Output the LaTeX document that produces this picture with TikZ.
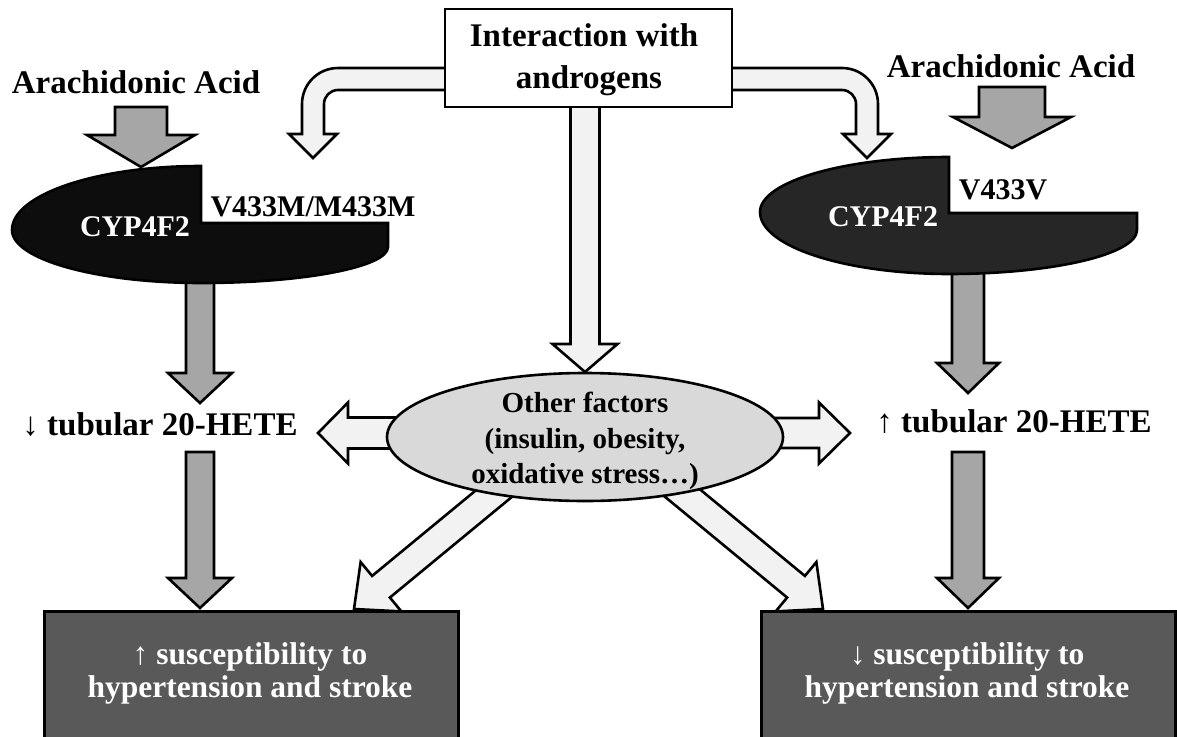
\documentclass[tikz,border=0pt]{standalone}
\usepackage{fontspec}
\setmainfont{Liberation Serif}
\usetikzlibrary{calc}
\definecolor{lightfill}{HTML}{F2F2F2}
\definecolor{grayfill}{HTML}{A6A6A6}
\definecolor{ellfill}{HTML}{D9D9D9}
\definecolor{boxfill}{HTML}{595959}
\definecolor{darkL}{HTML}{0D0D0D}
\definecolor{darkR}{HTML}{262626}
\newcommand\blockarrow[6]{%
  \coordinate (bab) at ($(#2)!#5!(#1)$);
  \draw[#6] ($(#1)!#3!90:(#2)$) -- ($(bab)!#3!90:(#2)$) -- ($(bab)!#4!90:(#2)$) -- (#2)
    -- ($(bab)!#4!-90:(#2)$) -- ($(bab)!#3!-90:(#2)$) -- ($(#1)!#3!-90:(#2)$) -- cycle;}
\begin{document}
\begin{tikzpicture}[x=1pt,y=-1pt,
  outline/.style={draw=black, line width=2.6pt, line join=miter},
  light/.style={outline, fill=lightfill},
  grayarrow/.style={outline, fill=grayfill},
  lbl/.style={inner sep=0pt, anchor=base, font=\fontsize{33}{36}\selectfont\bfseries},
  small/.style={inner sep=0pt, anchor=base, font=\fontsize{30}{33}\selectfont\bfseries},
  boxt/.style={inner sep=0pt, anchor=base, font=\fontsize{31.5}{33}\selectfont\bfseries},
  ell/.style={inner sep=0pt, anchor=base, font=\fontsize{29}{33}\selectfont\bfseries},
  topt/.style={inner sep=0pt, anchor=base, font=\fontsize{33}{36}\selectfont\bfseries},
  whitetxt/.style={text=white}]
\useasboundingbox (0,0) rectangle (1177,736);
\clip (0,0) rectangle (1177,736);

% ---- coordinates for block arrows
\coordinate (aaLs) at (141,107);  \coordinate (aaLt) at (141,167);
\coordinate (aaRs) at (1012,87);  \coordinate (aaRt) at (1012,148);
\coordinate (cLs) at (200,270);   \coordinate (cLt) at (200,403);
\coordinate (hLs) at (200,452);   \coordinate (hLt) at (200,608);
\coordinate (cRs) at (968,262);   \coordinate (cRt) at (968,393);
\coordinate (hRs) at (968,452);   \coordinate (hRt) at (968,608);
\coordinate (fLs) at (480,433);   \coordinate (fLt) at (318,433);
\coordinate (fRs) at (690,433);   \coordinate (fRt) at (850,433);
\coordinate (dLs) at (531,463);   \coordinate (dLt) at (354,609);
\coordinate (dRs) at (646,463);   \coordinate (dRt) at (823,609);
\coordinate (mDs) at (585,100);   \coordinate (mDt) at (585,372);

% ---- gray arrows leaving the enzymes (under the shapes)
\blockarrow{cLs}{cLt}{14pt}{32pt}{30pt}{grayarrow}
\blockarrow{cRs}{cRt}{16pt}{31pt}{30pt}{grayarrow}

% ---- enzyme shapes
\draw[outline, fill=darkL] (201,166) .. controls (96.6,166) and (12,194.6) .. (12,230)
  .. controls (12,259.3) and (96.6,283) .. (201,283)
  .. controls (304.3,283) and (388,266.9) .. (388,247)
  -- (388,223) -- (201,223) -- cycle;
\draw[outline, fill=darkR] (949,157) .. controls (844.6,157) and (760,181.6) .. (760,212)
  .. controls (760,246.2) and (844.6,274) .. (949,274)
  .. controls (1052.8,274) and (1137,254.3) .. (1137,230)
  -- (1137,213) -- (949,213) -- cycle;
\node[small, whitetxt] (cypL) at (135,236) {CYP4F2};
\node[small] (varL) at (313,216) {V433M/M433M};
\node[small, whitetxt] (cypR) at (883,226) {CYP4F2};
\node[small] (varR) at (1003,199) {V433V};

% ---- arachidonic acid
\node[lbl] (aaL) at (136,93) {Arachidonic Acid};
\node[lbl] (aaR) at (1011,77) {Arachidonic Acid};
\blockarrow{aaLs}{aaLt}{26pt}{54pt}{32pt}{grayarrow}
\blockarrow{aaRs}{aaRt}{33pt}{59pt}{31pt}{grayarrow}

% ---- tubular 20-HETE
\node[lbl] (heteL) at (160,435) {↓ tubular 20-HETE};
\node[lbl] (heteR) at (1014,432) {↑ tubular 20-HETE};
\blockarrow{hLs}{hLt}{14pt}{32pt}{30pt}{grayarrow}
\blockarrow{hRs}{hRt}{16pt}{31pt}{30pt}{grayarrow}

% ---- arrows from other factors
\blockarrow{fLs}{fLt}{15.5pt}{30.5pt}{30pt}{light}
\blockarrow{fRs}{fRt}{15pt}{30.5pt}{31pt}{light}
\blockarrow{dLs}{dLt}{14pt}{32pt}{35pt}{light}
\blockarrow{dRs}{dRt}{14pt}{32pt}{35pt}{light}

% ---- other factors ellipse
\draw[outline, fill=ellfill] (585,437) ellipse [x radius=198, y radius=64];
\coordinate (factors) at (585,437);
\node[ell] (of1) at (585,412) {Other factors};
\node[ell] (of2) at (585,448) {(insulin, obesity,};
\node[ell] (of3) at (585,483) {oxidative stress…)};

% ---- androgens box and its arrows
\blockarrow{mDs}{mDt}{14.5pt}{32.5pt}{28pt}{light}
\draw[light] (470,68) -- (338,68) .. controls (318.1,68) and (302,84.1) .. (302,104)
  -- (302,134) -- (289,134) -- (313,158) -- (337,134) -- (324,134) -- (324,104)
  .. controls (324,96.3) and (330.3,90) .. (338,90) -- (470,90) -- cycle;
\draw[light] (715,68) -- (842,68) .. controls (861.9,68) and (878,84.1) .. (878,104)
  -- (878,134) -- (891,134) -- (867,158) -- (843,134) -- (856,134) -- (856,104)
  .. controls (856,96.3) and (849.7,90) .. (842,90) -- (715,90) -- cycle;
\node[outline, fill=white, minimum width=287pt, minimum height=98pt, inner sep=0pt] (andro) at (588.5,58) {};
\node[topt] (andro1) at (584,46) {Interaction with};
\node[topt] (andro2) at (589,88) {androgens};

% ---- outcome boxes
\node[outline, fill=boxfill, minimum width=414pt, minimum height=160pt, inner sep=0pt, anchor=north west] (outL) at (43,610) {};
\node[outline, fill=boxfill, minimum width=414pt, minimum height=160pt, inner sep=0pt, anchor=north west] (outR) at (760,610) {};
\node[boxt, whitetxt] (outL1) at (250,664) {↑ susceptibility to};
\node[boxt, whitetxt] (outL2) at (250,697) {hypertension and stroke};
\node[boxt, whitetxt] (outR1) at (967,664) {↓ susceptibility to};
\node[boxt, whitetxt] (outR2) at (967,697) {hypertension and stroke};
\end{tikzpicture}
\end{document}
